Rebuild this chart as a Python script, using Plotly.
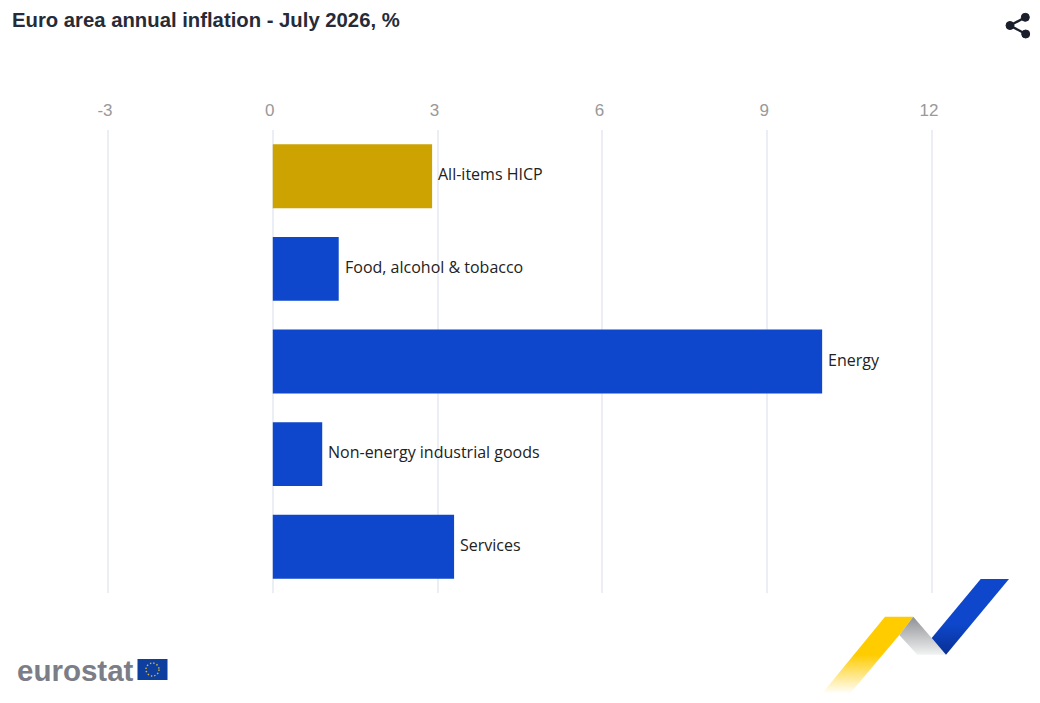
import base64
import plotly.graph_objects as go

categories = ['All-items HICP', 'Food, alcohol & tobacco', 'Energy', 'Non-energy industrial goods', 'Services']
values = [2.9, 1.2, 10.0, 0.9, 3.3]
bar_colors = ['#CCA300', '#0E47CB', '#0E47CB', '#0E47CB', '#0E47CB']
tick_values = [-3, 0, 3, 6, 9, 12]
tick_labels = ['-3', '0', '3', '6', '9', '12']

W, H = 1040, 703
M_L, M_R, M_T, M_B = 97, 97, 130, 110

# logos and share icon, drawn in page pixels
svg = f'''<svg xmlns="http://www.w3.org/2000/svg" width="{W}" height="{H}" viewBox="0 0 {W} {H}">
<defs>
<linearGradient id="y" x1="0" y1="0" x2="0" y2="1"><stop offset="0" stop-color="#FFCC00"/><stop offset="0.5" stop-color="#FFCC00"/><stop offset="1" stop-color="#FFCC00" stop-opacity="0.03"/></linearGradient>
<linearGradient id="g" x1="0" y1="0" x2="0" y2="1"><stop offset="0" stop-color="#8E9094"/><stop offset="1" stop-color="#F1F2F2"/></linearGradient>
<linearGradient id="b" x1="0" y1="0" x2="0" y2="1"><stop offset="0" stop-color="#0E47CB"/><stop offset="0.6" stop-color="#0E47CB"/><stop offset="1" stop-color="#082F93"/></linearGradient>
</defs>
<polygon points="885,616.7 913.3,616.7 899.3,635 850.7,692.7 822.7,692.7" fill="url(#y)"/>
<polygon points="913.3,616.7 946,654.7 917.3,654.7 899.3,635" fill="url(#g)"/>
<polygon points="980.7,579 1009,579 946,654.7 931.7,638" fill="url(#b)"/>
<rect x="137.5" y="659" width="30" height="21" fill="#0E3F9E"/>
<circle cx="152.5" cy="669.5" r="6.5" fill="none" stroke="#D8B93A" stroke-width="1.4" stroke-dasharray="1.4 2"/>
<g fill="#1B1E2B" stroke="#1B1E2B">
<line x1="1010" y1="25.5" x2="1025.3" y2="17.3" stroke-width="2.4"/>
<line x1="1010" y1="25.5" x2="1025.7" y2="34" stroke-width="2.4"/>
<circle cx="1010" cy="25.5" r="4" /><circle cx="1025.3" cy="17.3" r="4" /><circle cx="1025.7" cy="34" r="4" />
</g>
</svg>'''
svg_uri = 'data:image/svg+xml;base64,' + base64.b64encode(svg.encode()).decode()

plot_w = W - M_L - M_R
plot_h = H - M_T - M_B

fig = go.Figure(go.Bar(
    x=values,
    y=categories,
    orientation='h',
    marker=dict(color=bar_colors, line=dict(width=0)),
    hoverinfo='x+y',
))

bar_labels = [
    dict(text=c, x=v, y=c, xref='x', yref='y', xanchor='left', yanchor='middle',
         xshift=4, yshift=2, showarrow=False,
         font=dict(family='Open Sans', size=16, color='#222222'))
    for c, v in zip(categories, values)
]

fig.update_layout(
    width=W,
    height=H,
    margin=dict(l=M_L, r=M_R, t=M_T, b=M_B),
    paper_bgcolor='white',
    plot_bgcolor='white',
    bargap=0.31,
    showlegend=False,
    xaxis=dict(
        side='top',
        range=[-3.2, 12.2],
        tickvals=tick_values,
        ticktext=tick_labels,
        ticklabelshift=-3,
        ticklabelstandoff=10,
        tickfont=dict(family='Liberation Sans', size=17, color='#999999'),
        ticks='',
        showline=False,
        showgrid=True,
        gridcolor='#EBEEF4',
        gridwidth=1.5,
        zeroline=True,
        zerolinecolor='#EBEEF4',
        zerolinewidth=1.5,
    ),
    yaxis=dict(
        autorange=False,
        range=[4.5, -0.5],
        showticklabels=False,
        ticks='',
        showgrid=False,
        zeroline=False,
    ),
    annotations=bar_labels + [
        dict(text='<b>Euro area annual inflation - July 2026, %</b>',
             xref='paper', yref='paper',
             x=(10 - M_L) / plot_w, y=1 + (M_T - 20) / plot_h,
             xanchor='left', yanchor='middle', showarrow=False,
             font=dict(family='Liberation Sans', size=20.3, color='#262B38')),
        dict(text='<b>eurostat</b>',
             xref='paper', yref='paper',
             x=(15 - M_L) / plot_w, y=1 + (M_T - 670) / plot_h,
             xanchor='left', yanchor='middle', showarrow=False,
             font=dict(family='Liberation Sans', size=29.5, color='#7B7D87')),
    ],
    images=[dict(source=svg_uri, xref='paper', yref='paper',
                 x=-M_L / plot_w, y=1 + M_T / plot_h,
                 sizex=W / plot_w, sizey=H / plot_h,
                 xanchor='left', yanchor='top', sizing='stretch', layer='above')],
)

fig.write_html('out.html', config=dict(displayModeBar=False),
               post_script="document.body.style.margin='0';document.body.style.overflow='hidden';")
